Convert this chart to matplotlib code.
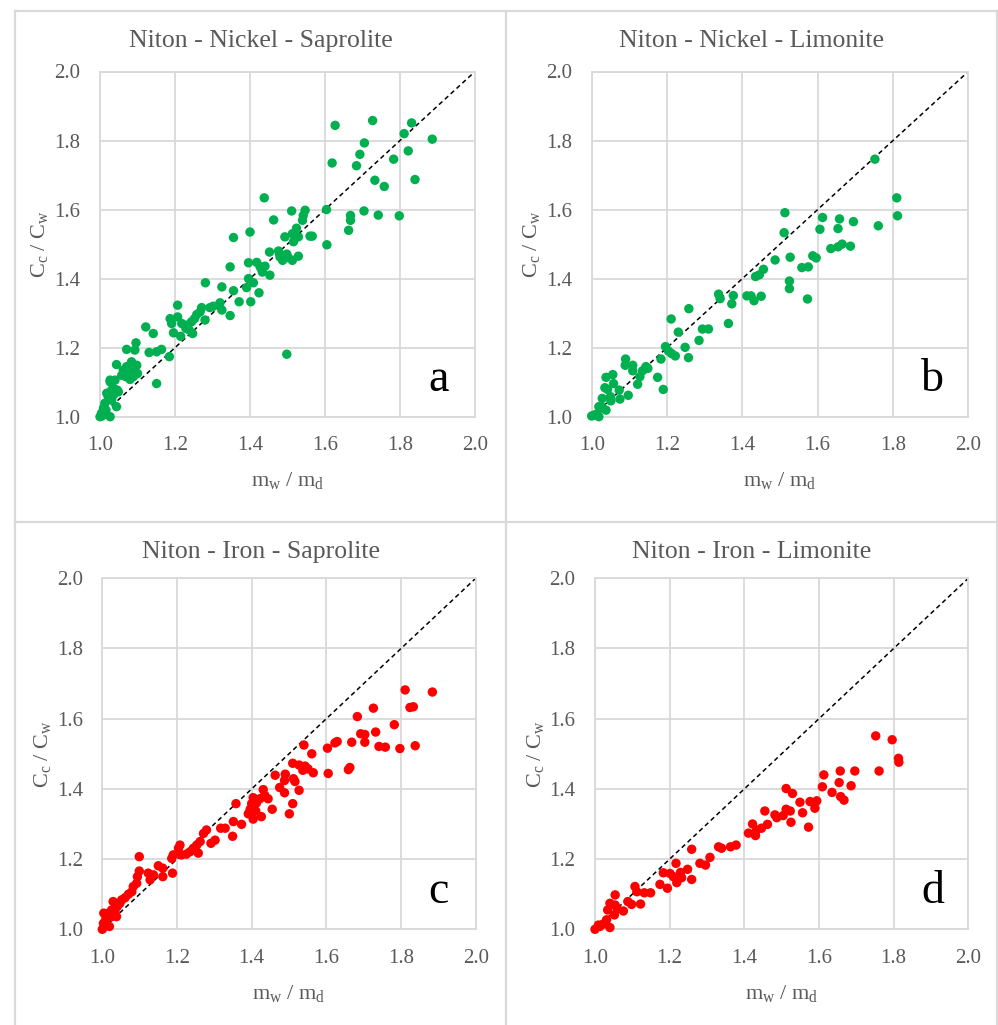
import matplotlib
matplotlib.use("Agg")
import matplotlib.pyplot as plt
from matplotlib.lines import Line2D

# ---------------- data ----------------
ni_sap_x = [1.627, 1.727, 1.831, 1.811, 1.886, 1.705, 1.693, 1.822, 1.783, 1.619,
            1.684, 1.733, 1.840, 1.758, 1.438, 1.604, 1.704, 1.742, 1.798, 1.668,
            1.668, 1.663, 1.605, 1.511, 1.547, 1.542, 1.540, 1.463, 1.400, 1.356,
            1.524, 1.513, 1.529, 1.560, 1.566, 1.516, 1.493, 1.452, 1.476, 1.480,
            1.498, 1.487, 1.513, 1.529, 1.502, 1.347, 1.396, 1.418, 1.427, 1.440,
            1.433, 1.453, 1.396, 1.391, 1.409, 1.356, 1.325, 1.281, 1.424, 1.371,
            1.402, 1.347, 1.320, 1.302, 1.293, 1.325, 1.271, 1.267, 1.258, 1.252,
            1.244, 1.231, 1.218, 1.207, 1.187, 1.191, 1.196, 1.207, 1.215, 1.229,
            1.247, 1.280, 1.238, 1.185, 1.164, 1.151, 1.131, 1.142, 1.122, 1.151,
            1.096, 1.071, 1.093, 1.044, 1.498, 1.062, 1.076, 1.084, 1.089, 1.080,
            1.093, 1.098, 1.069, 1.084, 1.100, 1.027, 1.031, 1.036, 1.022, 1.040,
            1.031, 1.013, 1.009, 1.004, 1.000, 1.027, 1.044, 1.016, 1.018, 1.046,
            1.036, 1.049, 1.027, 1.058, 1.071, 1.005]
ni_sap_y = [1.844, 1.858, 1.851, 1.820, 1.804, 1.793, 1.760, 1.770, 1.746, 1.735,
            1.727, 1.685, 1.687, 1.667, 1.634, 1.600, 1.596, 1.584, 1.582, 1.583,
            1.569, 1.540, 1.498, 1.596, 1.598, 1.583, 1.569, 1.570, 1.535, 1.519,
            1.546, 1.530, 1.521, 1.523, 1.523, 1.507, 1.521, 1.477, 1.480, 1.463,
            1.471, 1.453, 1.453, 1.465, 1.461, 1.434, 1.446, 1.447, 1.434, 1.436,
            1.419, 1.410, 1.400, 1.374, 1.388, 1.365, 1.376, 1.388, 1.359, 1.333,
            1.333, 1.293, 1.330, 1.320, 1.316, 1.309, 1.316, 1.304, 1.296, 1.284,
            1.275, 1.265, 1.270, 1.323, 1.284, 1.270, 1.243, 1.289, 1.233, 1.256,
            1.241, 1.280, 1.251, 1.174, 1.195, 1.188, 1.186, 1.241, 1.260, 1.096,
            1.214, 1.195, 1.193, 1.151, 1.181, 1.135, 1.125, 1.145, 1.116, 1.108,
            1.133, 1.149, 1.116, 1.159, 1.125, 1.101, 1.077, 1.082, 1.058, 1.106,
            1.048, 1.039, 1.024, 1.010, 1.000, 1.000, 1.029, 1.019, 1.068, 1.077,
            1.063, 1.072, 1.106, 1.120, 1.145, 1.002]

ni_lim_x = [1.752, 1.810, 1.812, 1.761, 1.513, 1.511, 1.613, 1.606, 1.658, 1.654,
            1.695, 1.635, 1.654, 1.665, 1.687, 1.527, 1.487, 1.587, 1.596, 1.558,
            1.575, 1.456, 1.435, 1.445, 1.525, 1.525, 1.573, 1.412, 1.423, 1.431,
            1.450, 1.337, 1.341, 1.376, 1.372, 1.363, 1.258, 1.211, 1.230, 1.294,
            1.310, 1.285, 1.196, 1.204, 1.212, 1.222, 1.248, 1.257, 1.184, 1.175,
            1.190, 1.090, 1.089, 1.109, 1.109, 1.135, 1.144, 1.149, 1.128, 1.122,
            1.097, 1.038, 1.056, 1.058, 1.035, 1.042, 1.073, 1.075, 1.050, 1.051,
            1.028, 1.019, 1.028, 1.038, 1.015, 1.000, 1.007, 1.019]
ni_lim_y = [1.746, 1.634, 1.582, 1.553, 1.591, 1.533, 1.577, 1.543, 1.573, 1.545,
            1.565, 1.487, 1.492, 1.500, 1.494, 1.462, 1.454, 1.466, 1.460, 1.432,
            1.434, 1.427, 1.406, 1.411, 1.393, 1.371, 1.341, 1.350, 1.350, 1.336,
            1.349, 1.355, 1.342, 1.351, 1.327, 1.270, 1.313, 1.283, 1.245, 1.254,
            1.254, 1.221, 1.203, 1.190, 1.183, 1.176, 1.201, 1.171, 1.167, 1.114,
            1.079, 1.167, 1.149, 1.149, 1.133, 1.133, 1.145, 1.140, 1.116, 1.094,
            1.062, 1.114, 1.122, 1.096, 1.084, 1.079, 1.077, 1.051, 1.058, 1.046,
            1.053, 1.029, 1.027, 1.019, 1.008, 1.002, 1.005, 1.000]

fe_sap_x = [1.811, 1.884, 1.824, 1.833, 1.726, 1.683, 1.782, 1.732, 1.692, 1.703,
            1.703, 1.668, 1.623, 1.629, 1.603, 1.741, 1.758, 1.797, 1.838, 1.540,
            1.561, 1.605, 1.663, 1.659, 1.510, 1.527, 1.543, 1.551, 1.565, 1.537,
            1.463, 1.490, 1.488, 1.512, 1.516, 1.475, 1.488, 1.527, 1.431, 1.435,
            1.444, 1.422, 1.404, 1.400, 1.413, 1.396, 1.411, 1.391, 1.404, 1.426,
            1.455, 1.510, 1.501, 1.358, 1.351, 1.373, 1.349, 1.317, 1.329, 1.302,
            1.291, 1.279, 1.271, 1.262, 1.253, 1.244, 1.257, 1.235, 1.225, 1.212,
            1.208, 1.204, 1.190, 1.186, 1.188, 1.162, 1.150, 1.162, 1.137, 1.128,
            1.123, 1.099, 1.099, 1.094, 1.092, 1.083, 1.079, 1.070, 1.061, 1.052,
            1.047, 1.040, 1.029, 1.034, 1.025, 1.016, 1.004, 1.010, 1.003, 1.000,
            1.019, 1.025, 1.038]
fe_sap_y = [1.682, 1.676, 1.632, 1.634, 1.630, 1.606, 1.583, 1.562, 1.557, 1.555,
            1.533, 1.533, 1.531, 1.535, 1.516, 1.521, 1.519, 1.515, 1.523, 1.525,
            1.500, 1.444, 1.461, 1.455, 1.473, 1.468, 1.465, 1.457, 1.446, 1.453,
            1.439, 1.442, 1.424, 1.429, 1.421, 1.404, 1.389, 1.396, 1.398, 1.382,
            1.372, 1.372, 1.375, 1.358, 1.360, 1.342, 1.337, 1.329, 1.314, 1.321,
            1.342, 1.358, 1.329, 1.358, 1.307, 1.299, 1.265, 1.288, 1.288, 1.254,
            1.245, 1.283, 1.273, 1.250, 1.240, 1.231, 1.217, 1.221, 1.214, 1.212,
            1.240, 1.231, 1.212, 1.202, 1.160, 1.174, 1.181, 1.150, 1.155, 1.141,
            1.160, 1.207, 1.166, 1.150, 1.131, 1.122, 1.107, 1.100, 1.090, 1.084,
            1.074, 1.065, 1.079, 1.050, 1.055, 1.046, 1.046, 1.031, 1.017, 1.000,
            1.008, 1.036, 1.036]

fe_lim_x = [1.752, 1.796, 1.813, 1.814, 1.761, 1.657, 1.696, 1.613, 1.654, 1.686,
            1.609, 1.512, 1.529, 1.635, 1.658, 1.667, 1.549, 1.576, 1.594, 1.589,
            1.556, 1.455, 1.512, 1.523, 1.482, 1.487, 1.504, 1.525, 1.572, 1.462,
            1.422, 1.446, 1.433, 1.411, 1.430, 1.331, 1.339, 1.363, 1.378, 1.259,
            1.308, 1.281, 1.296, 1.217, 1.248, 1.229, 1.183, 1.201, 1.210, 1.232,
            1.219, 1.194, 1.259, 1.174, 1.107, 1.112, 1.132, 1.149, 1.122, 1.088,
            1.098, 1.054, 1.040, 1.054, 1.034, 1.060, 1.076, 1.052, 1.031, 1.022,
            1.009, 1.040, 1.000, 1.013]
fe_lim_y = [1.551, 1.540, 1.487, 1.476, 1.451, 1.451, 1.451, 1.440, 1.418, 1.409,
            1.406, 1.401, 1.387, 1.390, 1.378, 1.368, 1.362, 1.364, 1.366, 1.345,
            1.332, 1.337, 1.342, 1.337, 1.326, 1.318, 1.324, 1.305, 1.291, 1.299,
            1.300, 1.288, 1.283, 1.274, 1.267, 1.235, 1.231, 1.235, 1.240, 1.228,
            1.205, 1.188, 1.183, 1.188, 1.171, 1.162, 1.161, 1.159, 1.150, 1.147,
            1.133, 1.117, 1.142, 1.128, 1.122, 1.107, 1.104, 1.104, 1.072, 1.079,
            1.071, 1.098, 1.074, 1.069, 1.055, 1.058, 1.052, 1.041, 1.027, 1.015,
            1.012, 1.005, 1.000, 1.008]

titles = ["Niton - Nickel - Saprolite", "Niton - Nickel - Limonite",
          "Niton - Iron - Saprolite", "Niton - Iron - Limonite"]
letters = ["a", "b", "c", "d"]
ticks = [1.0, 1.2, 1.4, 1.6, 1.8, 2.0]
tick_labels = ["1.0", "1.2", "1.4", "1.6", "1.8", "2.0"]
GREEN = "#00B050"
RED = "#FF0000"

# ---------------- style ----------------
W, H = 998, 1025
plt.rcParams["font.family"] = ["Liberation Serif", "DejaVu Serif"]
plt.rcParams["mathtext.fontset"] = "custom"
plt.rcParams["mathtext.rm"] = "Liberation Serif"
plt.rcParams["mathtext.it"] = "Liberation Serif:italic"
TXT = "#595959"
GRID = "#D9D9D9"

fig = plt.figure(figsize=(W / 100, H / 100), dpi=100)

def fx(px):
    return px / W

def fy(py):
    return 1 - py / H

# panel frame lines (Excel chart borders)
for xx in (15, 506, 997):
    fig.add_artist(Line2D([fx(xx), fx(xx)], [fy(11), fy(1025)], color=GRID, lw=1.6))
for yy in (11, 522):
    fig.add_artist(Line2D([fx(15), fx(997)], [fy(yy), fy(yy)], color=GRID, lw=1.6))

# axes boxes in pixels: (left, top, right, bottom)
boxes = [(100, 71.5, 475, 416.7), (591.7, 71.5, 968.3, 416.7),
         (102.3, 578.3, 475.7, 929.3), (595, 578.3, 968.3, 929.3)]
panel_centers = [260.5, 751.5, 260.5, 751.5]
title_y = [41, 41, 552, 552]
letter_pos = [(439, 391), (932, 391), (438, 903), (933, 903)]
data = [(ni_sap_x, ni_sap_y, GREEN), (ni_lim_x, ni_lim_y, GREEN),
        (fe_sap_x, fe_sap_y, RED), (fe_lim_x, fe_lim_y, RED)]

for i, (l, t, r, b) in enumerate(boxes):
    ax = fig.add_axes([fx(l), fy(b), (r - l) / W, (b - t) / H])
    ax.set_xlim(1.0, 2.0)
    ax.set_ylim(1.0, 2.0)
    ax.set_xticks(ticks)
    ax.set_yticks(ticks)
    ax.set_xticklabels(tick_labels)
    ax.set_yticklabels(tick_labels)
    ax.tick_params(length=0, labelsize=15, colors=TXT, pad=14)
    ax.grid(True, color=GRID, lw=1.3)
    ax.set_axisbelow(True)
    for sp in ax.spines.values():
        sp.set_color(GRID)
        sp.set_linewidth(1.3)
    ax.plot([1.0, 2.0], [1.0, 2.0], color="black", lw=1.1, ls=(0, (3, 2.2)), zorder=2)
    xs, ys, col = data[i]
    ax.scatter(xs, ys, s=46, color=col, edgecolors="none", zorder=3, clip_on=False)
    ax.set_xlabel(r"$\mathrm{m_w\ /\ m_d}$", fontsize=16, color=TXT)
    ax.set_ylabel(r"$\mathrm{C_c\ /\ C_w}$", fontsize=16, color=TXT)
    ax.xaxis.set_label_coords(0.5, -0.184)
    ax.xaxis.label.set_verticalalignment("center")
    ax.yaxis.set_label_coords(-0.16, 0.5)
    ax.yaxis.label.set_verticalalignment("center")
    fig.text(fx(panel_centers[i]), fy(title_y[i]), titles[i], ha="center", va="center",
             fontsize=18.5, color=TXT)
    lx, ly = letter_pos[i]
    fig.text(fx(lx), fy(ly), letters[i], ha="center", va="baseline", fontsize=33,
             color="black")

fig.savefig("out.png", dpi=100, facecolor="white")
